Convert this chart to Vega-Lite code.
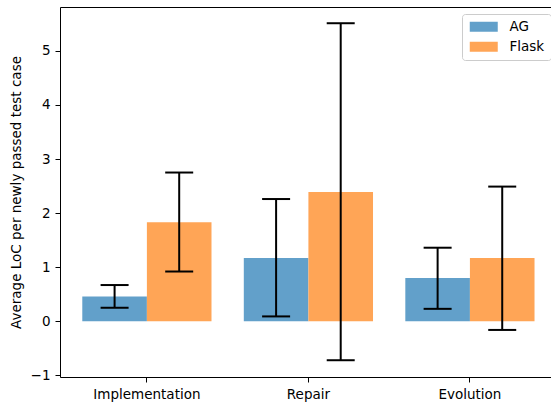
{
  "$schema": "https://vega.github.io/schema/vega-lite/v6.json",
  "width": 491,
  "height": 370,
  "autosize": {"type": "none"},
  "padding": {"left": 60, "top": 7, "right": 0, "bottom": 27},
  "config": {
    "view": {"stroke": null},
    "font": "DejaVu Sans",
    "axis": {
      "domainColor": "black",
      "domainWidth": 1,
      "tickColor": "black",
      "tickWidth": 1,
      "tickSize": 5,
      "labelColor": "black",
      "labelFont": "DejaVu Sans",
      "labelFontSize": 13.5,
      "titleFont": "DejaVu Sans",
      "titleFontSize": 13.5,
      "titleFontWeight": "normal",
      "titleColor": "black",
      "grid": false
    }
  },
  "data": {
    "values": [
      {"category": "Implementation", "group": "AG", "value": 0.46, "lo": 0.25, "hi": 0.67},
      {"category": "Implementation", "group": "Flask", "value": 1.83, "lo": 0.92, "hi": 2.75},
      {"category": "Repair", "group": "AG", "value": 1.17, "lo": 0.09, "hi": 2.26},
      {"category": "Repair", "group": "Flask", "value": 2.39, "lo": -0.72, "hi": 5.51},
      {"category": "Evolution", "group": "AG", "value": 0.8, "lo": 0.23, "hi": 1.36},
      {"category": "Evolution", "group": "Flask", "value": 1.17, "lo": -0.16, "hi": 2.49}
    ]
  },
  "layer": [
    {
      "mark": {"type": "bar", "opacity": 1},
      "encoding": {
        "x": {"field": "category", "type": "nominal", "sort": ["Implementation", "Repair", "Evolution"],
              "scale": {"paddingInner": 0.2, "paddingOuter": 0.12, "align": 0.575},
              "axis": {"orient": "bottom", "title": null, "labelAngle": 0, "labelPadding": 5}},
        "xOffset": {"field": "group", "type": "nominal", "sort": ["AG", "Flask"], "scale": {"paddingInner": 0, "paddingOuter": 0}},
        "y": {"field": "value", "type": "quantitative", "title": "Average LoC per newly passed test case",
              "scale": {"domain": [-1.03, 5.81], "nice": false, "zero": false},
              "axis": {"values": [-1, 0, 1, 2, 3, 4, 5], "format": "d", "labelPadding": 5, "titleX": -40, "titleY": 185, "titleBaseline": "alphabetic"}},
        "color": {"field": "group", "type": "nominal",
                  "scale": {"domain": ["AG", "Flask"], "range": ["#62a0ca", "#ffa556"]},
                  "legend": {"title": null, "orient": "none", "legendX": 402, "legendY": 7,
                             "symbolType": "M-2.8,-1L2.8,-1L2.8,1L-2.8,1Z", "symbolSize": 100,
                             "symbolOffset": 9,
                             "symbolStrokeWidth": 0, "symbolOpacity": 1,
                             "labelFont": "DejaVu Sans", "labelFontSize": 13.5, "labelColor": "black", "labelOffset": 19,
                             "padding": 6, "rowPadding": 5,
                             "fillColor": "rgba(255,255,255,0.8)", "strokeColor": "#cccccc", "cornerRadius": 3}}
      }
    },
    {
      "mark": {"type": "rule", "strokeWidth": 2, "color": "black"},
      "encoding": {
        "x": {"field": "category", "type": "nominal", "sort": ["Implementation", "Repair", "Evolution"],
              "scale": {"paddingInner": 0.2, "paddingOuter": 0.12, "align": 0.575}, "axis": null},
        "xOffset": {"field": "group", "type": "nominal", "sort": ["AG", "Flask"], "scale": {"paddingInner": 0, "paddingOuter": 0}},
        "y": {"field": "lo", "type": "quantitative", "title": "Average LoC per newly passed test case",
              "scale": {"domain": [-1.03, 5.81], "nice": false, "zero": false}},
        "y2": {"field": "hi"}
      }
    },
    {
      "mark": {"type": "tick", "orient": "horizontal", "size": 28, "thickness": 2, "color": "black", "opacity": 1},
      "encoding": {
        "x": {"field": "category", "type": "nominal", "sort": ["Implementation", "Repair", "Evolution"],
              "scale": {"paddingInner": 0.2, "paddingOuter": 0.12, "align": 0.575}, "axis": null},
        "xOffset": {"field": "group", "type": "nominal", "sort": ["AG", "Flask"], "scale": {"paddingInner": 0, "paddingOuter": 0}},
        "y": {"field": "lo", "type": "quantitative", "title": "Average LoC per newly passed test case",
              "scale": {"domain": [-1.03, 5.81], "nice": false, "zero": false}}
      }
    },
    {
      "mark": {"type": "tick", "orient": "horizontal", "size": 28, "thickness": 2, "color": "black", "opacity": 1},
      "encoding": {
        "x": {"field": "category", "type": "nominal", "sort": ["Implementation", "Repair", "Evolution"],
              "scale": {"paddingInner": 0.2, "paddingOuter": 0.12, "align": 0.575},
              "axis": {"orient": "top", "title": null, "labels": false, "ticks": false}},
        "xOffset": {"field": "group", "type": "nominal", "sort": ["AG", "Flask"], "scale": {"paddingInner": 0, "paddingOuter": 0}},
        "y": {"field": "hi", "type": "quantitative", "title": "Average LoC per newly passed test case",
              "scale": {"domain": [-1.03, 5.81], "nice": false, "zero": false}}
      }
    }
  ],
  "resolve": {"axis": {"x": "independent"}}
}
